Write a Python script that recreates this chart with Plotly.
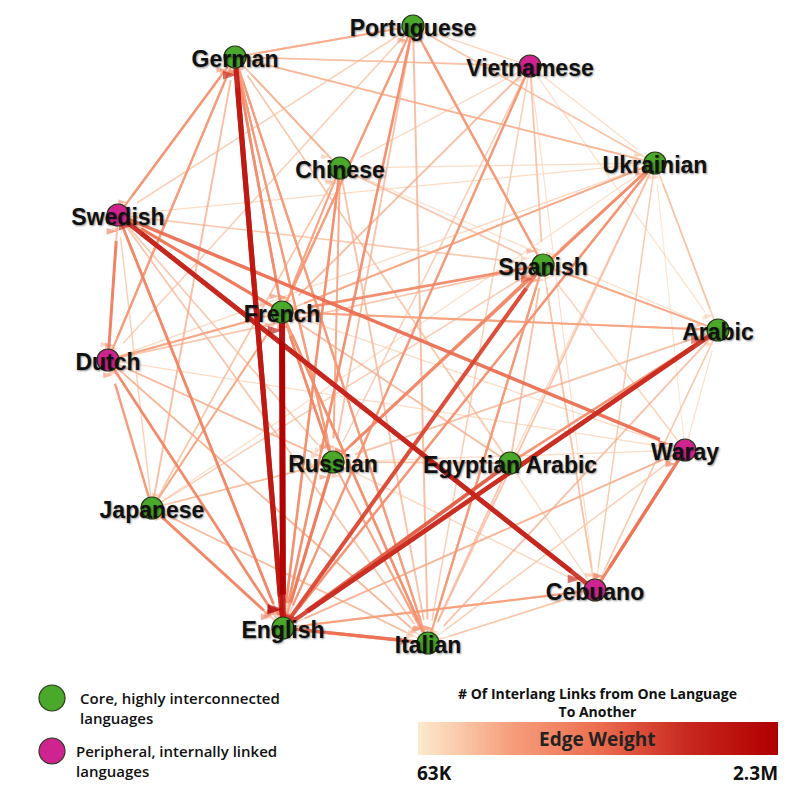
import math

import plotly.graph_objects as go

# node layout (pixel coords)
names = ["Portuguese", "German", "Vietnamese", "Chinese", "Ukrainian", "Swedish",
         "Spanish", "French", "Arabic", "Dutch", "Waray", "Russian",
         "Egyptian Arabic", "Japanese", "Cebuano", "English", "Italian"]
node_x = [413, 235, 530, 340, 655, 118, 543, 282, 718, 108, 685, 333, 510, 152, 595, 283, 428]
node_y = [26, 57, 66, 168, 163, 215, 265, 312, 330, 360, 450, 462, 463, 508, 590, 628, 643]
groups = ["core", "core", "peripheral", "core", "core", "peripheral", "core", "core", "core",
          "peripheral", "peripheral", "core", "core", "core", "peripheral", "core", "core"]

# (source, target, links in thousands)
edges = [
    ("French", "English", 2300), ("English", "French", 1900),
    ("German", "English", 1800), ("English", "German", 1600),
    ("Swedish", "Cebuano", 1500), ("Cebuano", "Swedish", 1400),
    ("Arabic", "English", 1400), ("English", "Arabic", 1200),
    ("English", "Spanish", 1100), ("Egyptian Arabic", "English", 950),
    ("Swedish", "Waray", 800), ("English", "Italian", 750),
    ("Waray", "Cebuano", 700), ("Cebuano", "Waray", 650),
    ("French", "Swedish", 700), ("Dutch", "Swedish", 600),
    ("Spanish", "English", 600), ("Russian", "English", 650),
    ("Italian", "English", 600), ("Japanese", "English", 550),
    ("Dutch", "English", 500), ("Swedish", "English", 550),
    ("Spanish", "French", 520), ("Russian", "French", 500),
    ("Portuguese", "English", 450), ("Chinese", "English", 450),
    ("Ukrainian", "Russian", 480), ("French", "German", 450),
    ("German", "French", 420), ("Italian", "French", 420),
    ("Russian", "Spanish", 450), ("Ukrainian", "English", 420),
    ("Vietnamese", "English", 380), ("Cebuano", "English", 300),
    ("Waray", "English", 250), ("Egyptian Arabic", "Arabic", 420),
    ("Japanese", "Dutch", 380), ("Swedish", "German", 360),
    ("German", "Swedish", 330), ("German", "Dutch", 320),
    ("Dutch", "German", 320), ("Portuguese", "Spanish", 330),
    ("Spanish", "Portuguese", 300), ("Portuguese", "French", 320),
    ("French", "Portuguese", 300), ("Spanish", "Italian", 330),
    ("Italian", "Spanish", 310), ("French", "Italian", 330),
    ("German", "Italian", 320), ("Italian", "German", 300),
    ("German", "Russian", 320), ("Russian", "German", 300),
    ("French", "Russian", 300), ("Spanish", "Russian", 280),
    ("Chinese", "French", 280), ("Chinese", "Russian", 260),
    ("Japanese", "French", 260), ("Japanese", "German", 240),
    ("Ukrainian", "French", 260), ("Ukrainian", "Spanish", 250),
    ("Arabic", "French", 280), ("Arabic", "Spanish", 260),
    ("Egyptian Arabic", "French", 240), ("Egyptian Arabic", "Spanish", 220),
    ("Vietnamese", "French", 240), ("Vietnamese", "Spanish", 200),
    ("Portuguese", "German", 250), ("German", "Portuguese", 240),
    ("Portuguese", "Russian", 220), ("Portuguese", "Italian", 240),
    ("Chinese", "Italian", 220), ("Chinese", "Spanish", 200),
    ("Chinese", "German", 220), ("German", "Chinese", 200),
    ("Ukrainian", "German", 220), ("Ukrainian", "Italian", 200),
    ("Ukrainian", "Arabic", 160), ("Arabic", "Ukrainian", 150),
    ("Arabic", "Italian", 220), ("Arabic", "Russian", 220),
    ("Arabic", "Egyptian Arabic", 200), ("Egyptian Arabic", "Italian", 200),
    ("Egyptian Arabic", "Russian", 180), ("Russian", "Italian", 260),
    ("Italian", "Russian", 240), ("Dutch", "French", 260),
    ("Dutch", "Italian", 220), ("Dutch", "Russian", 200),
    ("Dutch", "Spanish", 200), ("Swedish", "French", 240),
    ("Swedish", "Italian", 200), ("Swedish", "Spanish", 180),
    ("Swedish", "Russian", 180), ("Swedish", "Dutch", 220),
    ("Japanese", "Italian", 200), ("Japanese", "Russian", 180),
    ("Japanese", "Spanish", 160), ("Japanese", "Chinese", 150),
    ("Chinese", "Japanese", 130), ("Japanese", "Swedish", 140),
    ("Vietnamese", "German", 180), ("Vietnamese", "Italian", 150),
    ("Vietnamese", "Russian", 150), ("Vietnamese", "Portuguese", 120),
    ("Vietnamese", "Ukrainian", 100), ("Vietnamese", "Arabic", 90),
    ("Vietnamese", "Chinese", 110), ("Vietnamese", "Cebuano", 90),
    ("Waray", "Italian", 120), ("Waray", "Spanish", 130),
    ("Waray", "French", 110), ("Waray", "Arabic", 90),
    ("Waray", "Ukrainian", 80), ("Waray", "Russian", 100),
    ("Cebuano", "Italian", 150), ("Cebuano", "Spanish", 160),
    ("Cebuano", "Russian", 120), ("Cebuano", "Arabic", 100),
    ("Cebuano", "Ukrainian", 90), ("Cebuano", "German", 110),
    ("Ukrainian", "Cebuano", 130), ("Arabic", "Cebuano", 140),
    ("Italian", "Cebuano", 120), ("Spanish", "Cebuano", 140),
    ("Portuguese", "Ukrainian", 150), ("Ukrainian", "Portuguese", 140),
    ("Portuguese", "Swedish", 160), ("Portuguese", "Dutch", 150),
    ("German", "Ukrainian", 160), ("German", "Vietnamese", 120),
    ("French", "Ukrainian", 170), ("French", "Chinese", 170),
    ("French", "Dutch", 200), ("French", "Arabic", 180),
    ("French", "Japanese", 150), ("Spanish", "Arabic", 170),
    ("Spanish", "Ukrainian", 160), ("Russian", "Ukrainian", 220),
    ("Russian", "Dutch", 150), ("Russian", "Japanese", 120),
    ("Italian", "Japanese", 110), ("Italian", "Dutch", 130),
    ("Italian", "Waray", 90), ("English", "Russian", 320),
    ("English", "Japanese", 200), ("English", "Dutch", 230),
    ("English", "Swedish", 220), ("English", "Chinese", 200),
    ("English", "Portuguese", 210), ("English", "Ukrainian", 180),
    ("English", "Cebuano", 180), ("English", "Egyptian Arabic", 200),
    ("English", "Vietnamese", 150), ("English", "Waray", 120),
    ("Dutch", "Waray", 100), ("Japanese", "Ukrainian", 90),
    ("Dutch", "Ukrainian", 110), ("Swedish", "Ukrainian", 100),
    ("Chinese", "Ukrainian", 100), ("Chinese", "Arabic", 90),
    ("Egyptian Arabic", "German", 150), ("Egyptian Arabic", "Ukrainian", 110),
]

w_min, w_max = 63, 2300
ramp = [(253, 233, 205), (246, 160, 125), (236, 110, 80), (200, 40, 30), (176, 0, 0)]
NODE_R = 11


def edge_color(t, alpha):
    pos = t * (len(ramp) - 1)
    i = min(int(pos), len(ramp) - 2)
    f = pos - i
    c = [round(ramp[i][k] + (ramp[i + 1][k] - ramp[i][k]) * f) for k in range(3)]
    return f"rgba({c[0]},{c[1]},{c[2]},{alpha})"


idx = {n: i for i, n in enumerate(names)}
fig = go.Figure()

for src, dst, w in sorted(edges, key=lambda e: e[2]):
    t = ((w - w_min) / (w_max - w_min)) ** 0.6
    width = 0.8 + 5.2 * t
    head = 7 + 9 * t
    x0, y0 = node_x[idx[src]], node_y[idx[src]]
    x1, y1 = node_x[idx[dst]], node_y[idx[dst]]
    d = math.hypot(x1 - x0, y1 - y0)
    ux, uy = (x1 - x0) / d, (y1 - y0) / d
    color = edge_color(t, 0.75 if width < 2 else 0.92)
    # line stops at the arrowhead, arrowhead stops at the node rim
    tip = NODE_R + head / 2
    fig.add_trace(go.Scatter(
        x=[x0 + ux * NODE_R, x1 - ux * tip, x1 - ux * tip],
        y=[y0 + uy * NODE_R, y1 - uy * tip, y1 - uy * tip],
        mode="lines+markers", hoverinfo="skip", showlegend=False,
        line=dict(color=color, width=width),
        marker=dict(symbol="arrow", angleref="previous", size=[0, 0, head],
                    color=color, line=dict(width=0)),
    ))

colors = {"core": "#4aa82a", "peripheral": "#cf2490"}
fig.add_trace(go.Scatter(
    x=node_x, y=node_y, mode="markers", hoverinfo="text", text=names,
    marker=dict(size=22, color=[colors[g] for g in groups],
                line=dict(color="#2b3a1a", width=1.2)),
    showlegend=False,
))
fig.add_trace(go.Scatter(
    x=node_x, y=[v + 4 for v in node_y], mode="text", text=names,
    textposition="middle center", hoverinfo="skip",
    textfont=dict(family="Liberation Sans", size=23, color="#111",
                  weight="bold", shadow="1px 1px 2px rgba(0,0,0,0.45)"),
    showlegend=False,
))

# legend
fig.add_trace(go.Scatter(
    x=[52, 52], y=[698, 751], mode="markers", hoverinfo="skip",
    marker=dict(size=26, color=[colors["core"], colors["peripheral"]],
                line=dict(color="#2b3a1a", width=1.2)),
    showlegend=False,
))
annotations = [
    dict(x=78, y=708, xref="x", yref="y", showarrow=False, xanchor="left",
         align="left", text="Core, highly interconnected<br>languages",
         font=dict(family="Open Sans", size=15, color="#111", weight=600)),
    dict(x=74, y=761, xref="x", yref="y", showarrow=False, xanchor="left",
         align="left", text="Peripheral, internally linked<br>languages",
         font=dict(family="Open Sans", size=15, color="#111", weight=600)),
    dict(x=597, y=702, xref="x", yref="y", showarrow=False,
         text="# Of Interlang Links from One Language<br>To Another",
         font=dict(family="Open Sans", size=14, color="#111", weight="bold")),
    dict(x=597, y=739, xref="x", yref="y", showarrow=False, text="Edge Weight",
         font=dict(family="Open Sans", size=19, color="#222", weight="bold")),
    dict(x=415, y=773, xref="x", yref="y", showarrow=False, xanchor="left",
         text="63K", font=dict(family="Open Sans", size=19, color="#111", weight="bold")),
    dict(x=780, y=773, xref="x", yref="y", showarrow=False, xanchor="right",
         text="2.3M", font=dict(family="Open Sans", size=19, color="#111", weight="bold")),
]

# colour bar for edge weights (cell edges given explicitly)
steps = 100
fig.add_trace(go.Heatmap(
    z=[[w_min + (w_max - w_min) * k / (steps - 1) for k in range(steps)]],
    x=[418 + 360 * k / steps for k in range(steps + 1)], y=[722, 755],
    colorscale=[[i / (len(ramp) - 1), f"rgb{c}"] for i, c in enumerate(ramp)],
    showscale=False, hoverinfo="skip",
))

# the page body has an 8px default margin, so shift the view to match
fig.update_layout(
    width=812, height=800, margin=dict(l=0, r=0, t=0, b=0),
    plot_bgcolor="white", paper_bgcolor="white",
    xaxis=dict(range=[8, 820], visible=False, fixedrange=True),
    yaxis=dict(range=[808, 8], visible=False, fixedrange=True),
    annotations=annotations,
)
fig.write_html("out.html")
